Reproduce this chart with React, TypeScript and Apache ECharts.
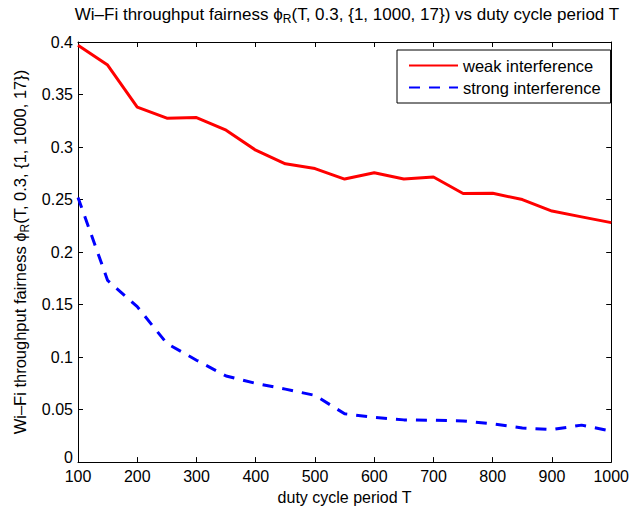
import React, { useEffect, useRef } from "react";
import * as echarts from "echarts";

const periods = [100, 150, 200, 250, 300, 350, 400, 450, 500, 550, 600, 650, 700, 750, 800, 850, 900, 950, 1000];
const weakInterference = [0.397, 0.378, 0.338, 0.3275, 0.328, 0.316, 0.297, 0.284, 0.2795, 0.2695, 0.2755, 0.2695, 0.2715, 0.2558, 0.256, 0.25, 0.239, 0.2335, 0.228];
const strongInterference = [0.252, 0.173, 0.148, 0.113, 0.097, 0.082, 0.075, 0.0695, 0.0635, 0.046, 0.0425, 0.0402, 0.0398, 0.0392, 0.0365, 0.0325, 0.031, 0.0352, 0.0295];

const seriesNames = ["weak interference", "strong interference"];
const titleText = "Wi–Fi throughput fairness ϕ{sub|R}(T, 0.3, {1, 1000, 17}) vs duty cycle period T";
const yName = "Wi–Fi throughput fairness ϕ{sub|R}(T, 0.3, {1, 1000, 17})";
const xName = "duty cycle period T";
const xMin = 100;
const xMax = 1000;
const xInterval = 100;
const yMin = 0;
const yMax = 0.4;
const yInterval = 0.05;

const FONT = "'Liberation Sans', Arial, Helvetica, sans-serif";

export default function App() {
  const ref = useRef<HTMLDivElement>(null);
  useEffect(() => {
    document.body.style.margin = "0";
    const chart = echarts.init(ref.current!, null, { renderer: "svg" });
    const fmtY = (v: number) => {
      const r = Math.round(v * 100) / 100;
      return r === 0 ? "{z|0}" : String(r);
    };
    const subRich = (size: number) => ({
      sub: { fontSize: Math.round(size * 0.7), fontFamily: FONT, color: "#000", padding: [9, 0, 0, 0] },
    });
    const ticksCommon = {
      show: true,
      inside: true,
      length: 5,
      lineStyle: { color: "#000", width: 1 },
    };
    chart.setOption({
      animation: false,
      backgroundColor: "#fff",
      textStyle: { fontFamily: FONT },
      title: {
        text: titleText,
        left: 347,
        top: 4,
        padding: 0,
        textAlign: "center",
        textStyle: { fontSize: 17, fontWeight: "normal", color: "#000", fontFamily: FONT, rich: subRich(17) },
      },
      grid: { left: 78, right: 19, top: 42, bottom: 46, containLabel: false },
      legend: {
        data: seriesNames,
        orient: "vertical",
        left: 397,
        top: 50,
        padding: [7, 10, 7, 11],
        itemWidth: 49,
        itemHeight: 14,
        itemGap: 5,
        borderColor: "#000",
        borderWidth: 1,
        backgroundColor: "#fff",
        itemStyle: { opacity: 0, borderWidth: 0 },
        textStyle: { fontSize: 16.5, color: "#000", fontFamily: FONT },
      },
      xAxis: [
        {
          type: "value",
          min: xMin,
          max: xMax,
          interval: xInterval,
          position: "bottom",
          name: xName,
          nameLocation: "middle",
          nameGap: 21,
          nameTextStyle: { fontSize: 16, color: "#000", fontFamily: FONT },
          axisLine: { show: true, onZero: false, lineStyle: { color: "#000", width: 1 } },
          axisTick: ticksCommon,
          axisLabel: { fontSize: 16, color: "#000", margin: 6, fontFamily: FONT, formatter: (v: number) => String(v) },
          splitLine: { show: false },
        },
        {
          type: "value",
          min: xMin,
          max: xMax,
          interval: xInterval,
          position: "top",
          axisLine: { show: true, onZero: false, lineStyle: { color: "#000", width: 1 } },
          axisTick: ticksCommon,
          axisLabel: { show: false },
          splitLine: { show: false },
        },
      ],
      yAxis: [
        {
          type: "value",
          min: yMin,
          max: yMax,
          interval: yInterval,
          position: "left",
          name: yName,
          nameLocation: "middle",
          nameRotate: 90,
          nameGap: 46,
          nameTextStyle: { fontSize: 16.5, color: "#000", fontFamily: FONT, rich: subRich(16.5) },
          axisLine: { show: true, onZero: false, lineStyle: { color: "#000", width: 1 } },
          axisTick: ticksCommon,
          axisLabel: {
            fontSize: 16,
            color: "#000",
            margin: 5,
            fontFamily: FONT,
            formatter: fmtY,
            rich: { z: { fontSize: 16, color: "#000", fontFamily: FONT, padding: [0, 0, 10, 0] } },
          },
          splitLine: { show: false },
        },
        {
          type: "value",
          min: yMin,
          max: yMax,
          interval: yInterval,
          position: "right",
          axisLine: { show: true, onZero: false, lineStyle: { color: "#000", width: 1 } },
          axisTick: ticksCommon,
          axisLabel: { show: false },
          splitLine: { show: false },
        },
      ],
      series: [
        {
          name: seriesNames[0],
          type: "line",
          xAxisIndex: 0,
          yAxisIndex: 0,
          data: periods.map((p, i) => [p, weakInterference[i]]),
          symbol: "none",
          lineStyle: { color: "#ff0000", width: 3, type: "solid" },
          itemStyle: { color: "#ff0000" },
        },
        {
          name: seriesNames[1],
          type: "line",
          xAxisIndex: 0,
          yAxisIndex: 0,
          data: periods.map((p, i) => [p, strongInterference[i]]),
          symbol: "none",
          lineStyle: { color: "#0000ff", width: 3, type: [11, 9] },
          itemStyle: { color: "#0000ff" },
        },
      ],
    });
    return () => chart.dispose();
  }, []);
  return <div ref={ref} style={{ width: 632, height: 510 }} />;
}
